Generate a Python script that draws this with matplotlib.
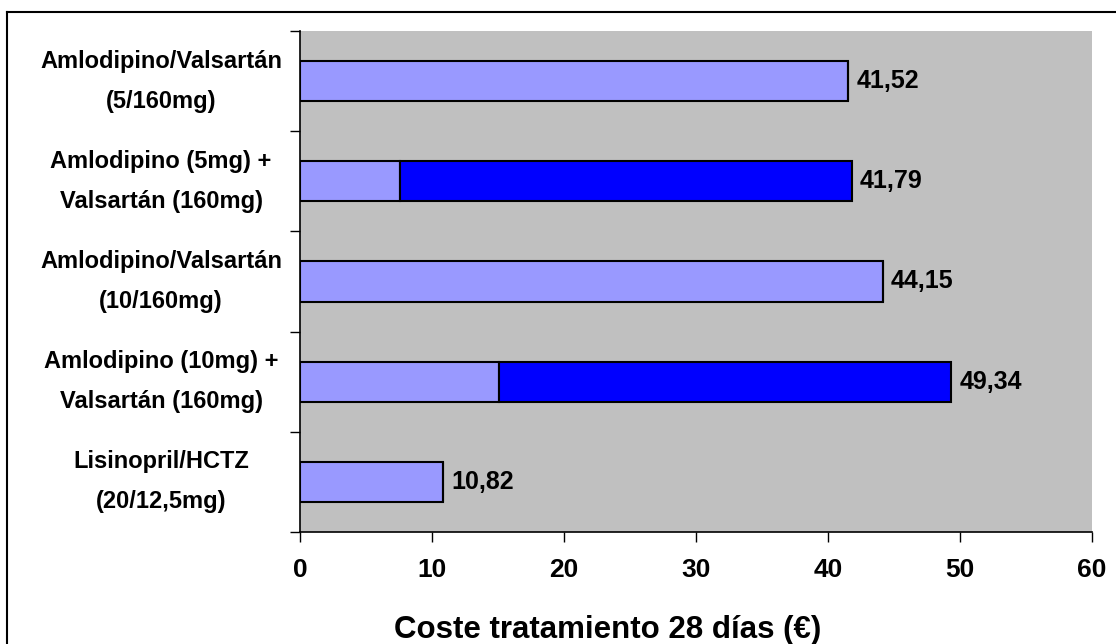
import matplotlib.pyplot as plt
from matplotlib.lines import Line2D

# Coste de tratamiento a 28 días por pauta (€)
pautas = [
    "Amlodipino/Valsartán\n(5/160mg)",
    "Amlodipino (5mg) +\nValsartán (160mg)",
    "Amlodipino/Valsartán\n(10/160mg)",
    "Amlodipino (10mg) +\nValsartán (160mg)",
    "Lisinopril/HCTZ\n(20/12,5mg)",
]
coste_base = [41.52, 7.55, 44.15, 15.10, 10.82]     # combinación fija o amlodipino
coste_valsartan = [0, 34.24, 0, 34.24, 0]             # valsartán por separado
totales = ["41,52", "41,79", "44,15", "49,34", "10,82"]
ticks_x = [0, 10, 20, 30, 40, 50, 60]

plt.rcParams["font.family"] = ["Liberation Sans", "DejaVu Sans"]
plt.rcParams["font.weight"] = "bold"

fig = plt.figure(figsize=(11.16, 6.44), dpi=100)
ax = fig.add_axes([300 / 1116, 1 - 532 / 644, 792 / 1116, 501 / 644])
ax.set_facecolor("#C0C0C0")

y = list(range(len(pautas)))
ax.barh(y, coste_base, height=0.4, color="#9999FF", edgecolor="black", linewidth=1.5)
ax.barh(y, coste_valsartan, left=coste_base, height=0.4, color="#0000FF",
        edgecolor="black", linewidth=1.5)
for i, txt in enumerate(totales):
    total = coste_base[i] + coste_valsartan[i]
    ax.annotate(txt, (total, i), xytext=(6, 0), textcoords="offset points",
                ha="left", va="center", fontsize=18, fontweight="bold")

ax.set_xlim(0, 60)
ax.set_ylim(len(pautas) - 0.5, -0.5)
ax.set_xticks(ticks_x)
ax.set_xticklabels([str(t) for t in ticks_x], fontsize=19, fontweight="bold")
ax.tick_params(axis="x", length=7, width=1, pad=12)

# Marcas del eje Y entre categorías, etiquetas centradas en cada barra
ax.set_yticks([i - 0.5 for i in range(len(pautas) + 1)])
ax.set_yticklabels([])
ax.set_yticks(y, minor=True)
ax.set_yticklabels(pautas, minor=True, fontsize=17, fontweight="bold",
                   ha="center", linespacing=1.95)
for lbl in ax.get_yticklabels(minor=True):
    lbl.set_verticalalignment("center")
ax.tick_params(axis="y", which="major", length=7, width=1)
ax.tick_params(axis="y", which="minor", length=0, pad=100)

for side in ("top", "right"):
    ax.spines[side].set_visible(False)
for side in ("left", "bottom"):
    ax.spines[side].set_linewidth(1.2)

ax.set_xlabel("Coste tratamiento 28 días (€)", fontsize=22.5, fontweight="bold")
ax.xaxis.set_label_coords(0.388, -0.165)

# Marco exterior de la figura
fig.add_artist(Line2D([7 / 1116, 7 / 1116], [0, 1 - 12 / 644], color="black",
                      lw=1.5, transform=fig.transFigure))
fig.add_artist(Line2D([7 / 1116, 1], [1 - 12 / 644, 1 - 12 / 644], color="black",
                      lw=1.5, transform=fig.transFigure))

fig.savefig("out.png", dpi=100)
